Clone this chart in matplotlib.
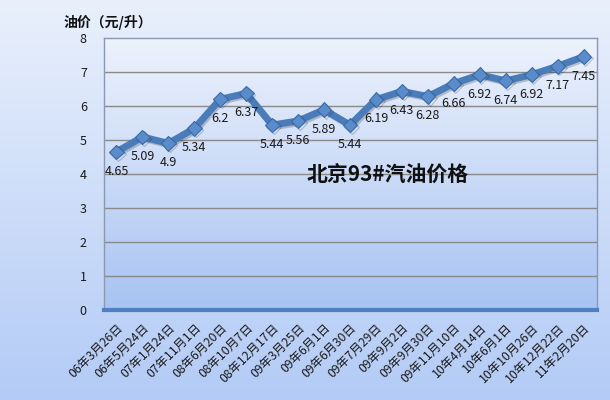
import numpy as np
import matplotlib
matplotlib.use("Agg")
import matplotlib.pyplot as plt
from matplotlib.colors import LinearSegmentedColormap
import matplotlib.patheffects as pe

plt.rcParams['font.family'] = ['Noto Sans CJK SC', 'DejaVu Sans']

dates = ['06年3月26日', '06年5月24日', '07年1月24日', '07年11月1日', '08年6月20日',
         '08年10月7日', '08年12月17日', '09年3月25日', '09年6月1日', '09年6月30日',
         '09年7月29日', '09年9月2日', '09年9月30日', '09年11月10日', '10年4月14日',
         '10年6月1日', '10年10月26日', '10年12月22日', '11年2月20日']
prices = [4.65, 5.09, 4.9, 5.34, 6.2, 6.37, 5.44, 5.56, 5.89, 5.44,
          6.19, 6.43, 6.28, 6.66, 6.92, 6.74, 6.92, 7.17, 7.45]
price_labels = ['4.65', '5.09', '4.9', '5.34', '6.2', '6.37', '5.44', '5.56', '5.89', '5.44',
                '6.19', '6.43', '6.28', '6.66', '6.92', '6.74', '6.92', '7.17', '7.45']

dpi = 100
fig = plt.figure(figsize=(610 / dpi, 400 / dpi), dpi=dpi)

# figure background gradient
bg = fig.add_axes([0, 0, 1, 1], zorder=-10)
bg_cmap = LinearSegmentedColormap.from_list('bg', ['#e9f0fc', '#b3cbf6'])
bg.imshow(np.linspace(0, 1, 256).reshape(-1, 1), aspect='auto', cmap=bg_cmap,
          extent=[0, 1, 0, 1], origin='upper')
bg.axis('off')

ax = fig.add_axes([103.5 / 610, 1 - 310 / 400, 493 / 610, 272 / 400])
ax.patch.set_alpha(0)
pa_cmap = LinearSegmentedColormap.from_list('pa', ['#edf2fc', '#a8c3f2'])
ax.imshow(np.linspace(0, 1, 256).reshape(-1, 1), aspect='auto', cmap=pa_cmap,
          extent=[0, 1, 0, 1], origin='upper', transform=ax.transAxes, zorder=0)

xs = np.arange(len(prices))
ax.set_xlim(-0.5, len(prices) - 0.5)
ax.set_ylim(0, 8)
ax.set_yticks(range(0, 9))
for yv in range(1, 8):
    ax.axhline(yv, color='#8a8a8a', linewidth=1, zorder=1)

ax.plot(xs, prices, color='#4a7cba', linewidth=5, marker='D', markersize=7.5,
        markerfacecolor='#5a8ccb', markeredgecolor='#3a6aa6', markeredgewidth=0.8,
        zorder=3, solid_joinstyle='miter',
        path_effects=[pe.SimpleLineShadow(offset=(1.2, -1.2), alpha=0.2), pe.Normal()])

for x, y, t in zip(xs, prices, price_labels):
    ax.annotate(t, (x, y), xytext=(0, -14), textcoords='offset points',
                ha='center', va='center', fontsize=9, color='#1a1a1a', zorder=4)

ax.set_xticks(xs)
ax.set_xticklabels(dates, rotation=45, ha='right', rotation_mode='anchor',
                   fontsize=8.8, color='#1a1a1a')
ax.tick_params(axis='x', length=0, pad=8)
ax.tick_params(axis='y', length=0, pad=12, labelsize=9, labelcolor='#1a1a1a')

for s in ['left', 'top', 'right']:
    ax.spines[s].set_color('#8a98b0')
    ax.spines[s].set_linewidth(1)
ax.spines['bottom'].set_color('#5080c0')
ax.spines['bottom'].set_linewidth(3)

ax.text(0.577, 0.5, '北京93#汽油价格', transform=ax.transAxes, fontsize=15,
        fontweight='bold', ha='center', va='center', color='#111111', zorder=5)
fig.text(64 / 610, 1 - 22 / 400, '油价（元/升）', fontsize=10, fontweight='bold',
         ha='left', va='center', color='#111111')

fig.savefig('out.png', dpi=dpi)
